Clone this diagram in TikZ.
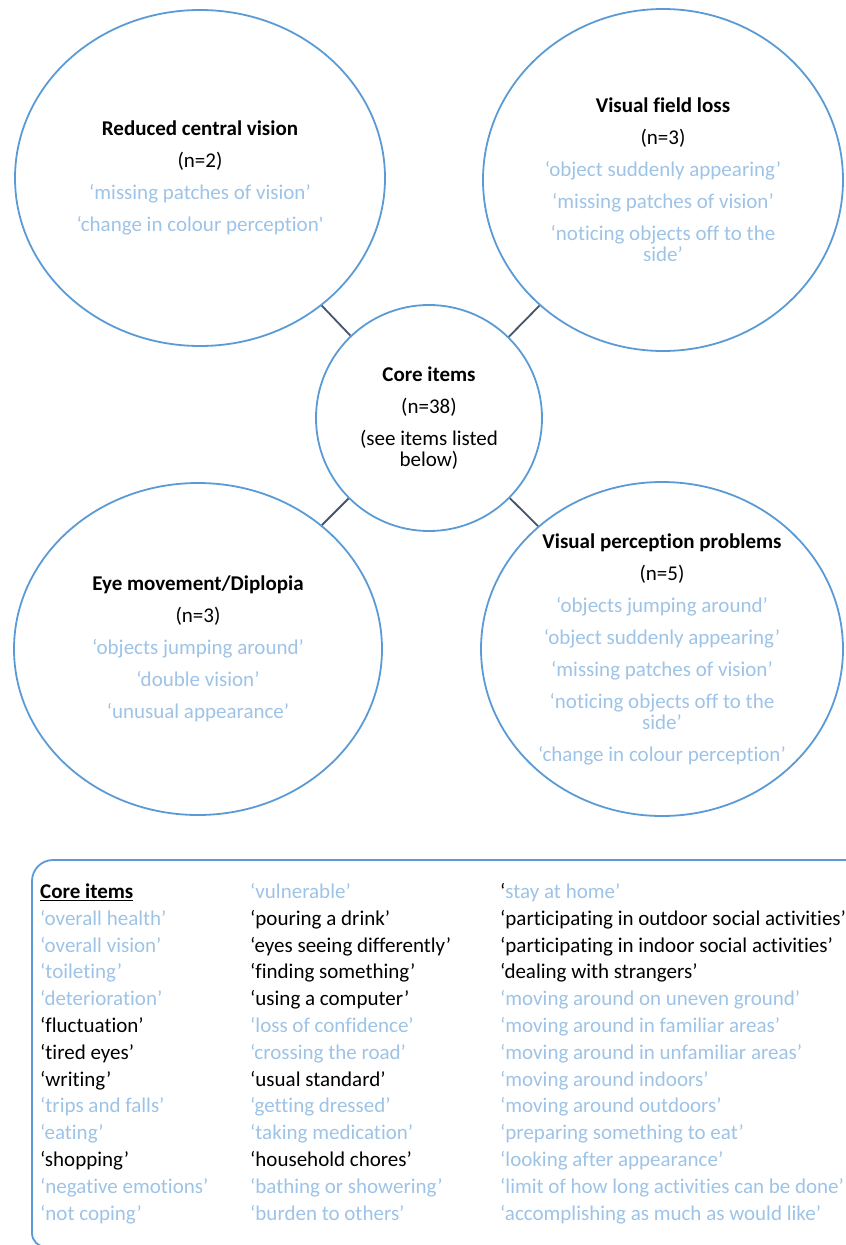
\documentclass[tikz,border=0pt]{standalone}
\usepackage{fontspec}
\setmainfont{Carlito}[Ligatures={TeX,NoCommon}]
\usetikzlibrary{shapes.geometric}

\definecolor{ringblue}{HTML}{5B9BD5}
\definecolor{liteblue}{HTML}{9DC3E6}
\definecolor{linkgrey}{HTML}{44546A}

\newcommand{\bodyfont}{\fontsize{21}{21}\selectfont}
\newcommand{\lite}[1]{\textcolor{liteblue}{#1}}

\tikzset{
    theme/.style={ellipse, draw=ringblue, line width=1.8pt, inner sep=0pt,
                  align=center, font=\bodyfont},
    link/.style={draw=linkgrey, line width=1.8pt},
    item/.style={anchor=base west, inner sep=0pt, font=\bodyfont},
    frame/.style={draw=ringblue, line width=1.8pt}
}

\begin{document}
\begin{tikzpicture}[x=1pt,y=-1pt]
    \useasboundingbox (0,0) rectangle (846,1245);

    % Circles
    % -------
    \node[theme, minimum width=370pt, minimum height=336pt] (rcv) at (200,178)
        {\textbf{Reduced central vision}\\[11pt] (n=2)\\[11pt]
         \lite{‘missing patches of vision’}\\[11pt]
         \lite{‘change in colour perception\textquotesingle}};
    \node[theme, minimum width=360pt, minimum height=342pt] (vfl) at (663,180)
        {\textbf{Visual field loss}\\[11pt] (n=3)\\[11pt]
         \lite{‘object suddenly appearing’}\\[11pt]
         \lite{‘missing patches of vision’}\\[11pt]
         \lite{‘noticing objects off to the}\\ \lite{side’}};
    \node[theme, minimum width=226pt, minimum height=226pt] (core) at (429,418)
        {\textbf{Core items}\\[11pt] (n=38)\\[11pt] (see items listed\\ below)};
    \node[theme, minimum width=368pt, minimum height=332pt] (emd) at (198,649)
        {\textbf{Eye movement/Diplopia}\\[11pt] (n=3)\\[11pt]
         \lite{‘objects jumping around’}\\[11pt]
         \lite{‘double vision’}\\[11pt]
         \lite{‘unusual appearance’}};
    \node[theme, minimum width=362pt, minimum height=334pt] (vpp) at (662,649)
        {\textbf{Visual perception problems}\\[11pt] (n=5)\\[11pt]
         \lite{‘objects jumping around’}\\[11pt]
         \lite{‘object suddenly appearing’}\\[11pt]
         \lite{‘missing patches of vision’}\\[11pt]
         \lite{‘noticing objects off to the}\\ \lite{side’}\\[11pt]
         \lite{‘change in colour perception’}};

    % Draw Links
    % ----------
    \draw[link] (rcv) -- (core);
    \draw[link] (vfl) -- (core);
    \draw[link] (emd) -- (core);
    \draw[link] (vpp) -- (core);

    % Item Box
    % --------
    \draw[frame, rounded corners=21pt] (870,860) -- (32,860) -- (32,1100);
    \draw[frame, rounded corners=14pt] (32,1100) -- (32,1247) -- (870,1247);

    % 1st Column
    % ----------
    \node[item] (L0)  at (40, 898.5) {\underline{\textbf{Core items}}};
    \node[item, text=liteblue] (L1)  at (40, 925.3) {‘overall health’};
    \node[item, text=liteblue] (L2)  at (40, 952.1) {‘overall vision’};
    \node[item, text=liteblue] (L3)  at (40, 978.9) {‘toileting’};
    \node[item, text=liteblue] (L4)  at (40,1005.7) {‘deterioration’};
    \node[item] (L5)  at (40,1032.5) {‘fluctuation’};
    \node[item] (L6)  at (40,1059.3) {‘tired eyes’};
    \node[item] (L7)  at (40,1086.1) {‘writing’};
    \node[item, text=liteblue] (L8)  at (40,1112.9) {‘trips and falls’};
    \node[item, text=liteblue] (L9)  at (40,1139.7) {‘eating’};
    \node[item] (L10) at (40,1166.5) {‘shopping’};
    \node[item, text=liteblue] (L11) at (40,1193.3) {‘negative emotions’};
    \node[item, text=liteblue] (L12) at (40,1220.1) {‘not coping’};

    % 2nd Column
    % ----------
    \node[item, text=liteblue] (M0)  at (250, 898.5) {‘vulnerable’};
    \node[item] (M1)  at (250, 925.3) {‘pouring a drink’};
    \node[item] (M2)  at (250, 952.1) {‘eyes seeing differently’};
    \node[item] (M3)  at (250, 978.9) {‘finding something’};
    \node[item] (M4)  at (250,1005.7) {‘using a computer’};
    \node[item, text=liteblue] (M5)  at (250,1032.5) {‘loss of confidence’};
    \node[item, text=liteblue] (M6)  at (250,1059.3) {‘crossing the road’};
    \node[item] (M7)  at (250,1086.1) {‘usual standard’};
    \node[item, text=liteblue] (M8)  at (250,1112.9) {‘getting dressed’};
    \node[item, text=liteblue] (M9)  at (250,1139.7) {‘taking medication’};
    \node[item] (M10) at (250,1166.5) {‘household chores’};
    \node[item, text=liteblue] (M11) at (250,1193.3) {‘bathing or showering’};
    \node[item, text=liteblue] (M12) at (250,1220.1) {‘burden to others’};

    % 3rd Column
    % ----------
    \node[item, text=liteblue] (R0)  at (500, 898.5) {\textcolor{black}{‘}stay at home’};
    \node[item] (R1)  at (500, 925.3) {‘participating in outdoor social activities’};
    \node[item] (R2)  at (500, 952.1) {‘participating in indoor social activities’};
    \node[item] (R3)  at (500, 978.9) {‘dealing with strangers’};
    \node[item, text=liteblue] (R4)  at (500,1005.7) {‘moving around on uneven ground’};
    \node[item, text=liteblue] (R5)  at (500,1032.5) {‘moving around in familiar areas’};
    \node[item, text=liteblue] (R6)  at (500,1059.3) {‘moving around in unfamiliar areas’};
    \node[item, text=liteblue] (R7)  at (500,1086.1) {‘moving around indoors’};
    \node[item, text=liteblue] (R8)  at (500,1112.9) {‘moving around outdoors’};
    \node[item, text=liteblue] (R9)  at (500,1139.7) {‘preparing something to eat’};
    \node[item, text=liteblue] (R10) at (500,1166.5) {‘looking after appearance’};
    \node[item, text=liteblue] (R11) at (500,1193.3) {‘limit of how long activities can be done’};
    \node[item, text=liteblue] (R12) at (500,1220.1) {‘accomplishing as much as would like’};

\end{tikzpicture}
\end{document}
